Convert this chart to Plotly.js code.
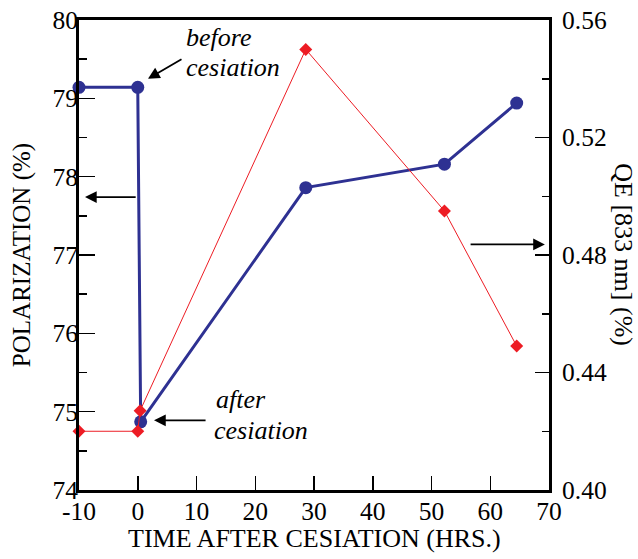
<!DOCTYPE html>
<html>
<head>
<meta charset="utf-8">
<script src="https://cdn.plot.ly/plotly-3.0.1.min.js"></script>
<style>html,body{margin:0;padding:0;background:#fff;}#chart{width:638px;height:559px;}</style>
</head>
<body>
<div id="chart"></div>
<script>
// Polarization series (left axis)
const polTime = [-10, 0, 0.5, 28.6, 52.2, 64.5];
const polValue = [79.14, 79.14, 74.87, 77.86, 78.16, 78.94];
// QE series (right axis)
const qeTime = [-10, 0, 0.4, 28.6, 52.2, 64.5];
const qeValue = [0.420, 0.420, 0.427, 0.550, 0.495, 0.449];

const xTicks = [-10, 0, 10, 20, 30, 40, 50, 60, 70];
const yTicks = [74, 75, 76, 77, 78, 79, 80];
const y2Ticks = [0.40, 0.44, 0.48, 0.52, 0.56];

const serif = 'Liberation Serif';
const BLUE = '#2E3192';
const RED = '#ED1C24';

const traces = [
  {
    x: polTime, y: polValue, type: 'scatter', mode: 'lines+markers',
    line: {color: BLUE, width: 3},
    marker: {color: BLUE, size: 13, symbol: 'circle'},
    yaxis: 'y', cliponaxis: false
  },
  {
    x: qeTime, y: qeValue, type: 'scatter', mode: 'lines+markers',
    line: {color: RED, width: 1},
    marker: {color: RED, size: 10, symbol: 'diamond'},
    yaxis: 'y2', cliponaxis: false
  }
];

const tickFont = {family: serif, size: 25.5, color: '#000'};
const italicFont = {family: serif, size: 26, color: '#000', style: 'italic'};

const layout = {
  width: 638, height: 559,
  margin: {l: 79, r: 89, t: 20, b: 69, pad: 0},
  paper_bgcolor: '#fff', plot_bgcolor: '#fff',
  font: {family: serif},
  showlegend: false,
  xaxis: {
    range: [-10, 70], tickvals: xTicks, ticktext: xTicks.map(String),
    ticks: 'inside', ticklen: 14, tickwidth: 1.5, tickcolor: '#000',
    ticklabelstandoff: -4,
    showline: true, linewidth: 3, linecolor: '#000', mirror: true,
    showgrid: false, zeroline: false, tickfont: tickFont
  },
  yaxis: {
    range: [74, 80], tickvals: yTicks, ticktext: yTicks.map(String),
    ticks: 'inside', ticklen: 16, tickwidth: 1.5, tickcolor: '#000',
    ticklabelstandoff: -7,
    minor: {dtick: 0.5, ticks: 'inside', ticklen: 8, tickwidth: 1.5, tickcolor: '#000', showgrid: false},
    showline: true, linewidth: 3, linecolor: '#000',
    showgrid: false, zeroline: false, tickfont: tickFont
  },
  yaxis2: {
    range: [0.40, 0.56], tickvals: y2Ticks, ticktext: y2Ticks.map(v => v.toFixed(2)),
    overlaying: 'y', side: 'right',
    ticks: 'inside', ticklen: 14, tickwidth: 1.5, tickcolor: '#000',
    ticklabelstandoff: 5,
    minor: {dtick: 0.02, ticks: 'inside', ticklen: 7, tickwidth: 1.5, tickcolor: '#000', showgrid: false},
    showline: true, linewidth: 3, linecolor: '#000',
    showgrid: false, zeroline: false, tickfont: tickFont
  },
  annotations: [
    {xref: 'paper', yref: 'paper', x: -0.121, y: 0.5, text: 'POLARIZATION (%)', textangle: -90,
     showarrow: false, xanchor: 'center', yanchor: 'middle', font: {family: serif, size: 25, color: '#000'}},
    {xref: 'paper', yref: 'paper', x: 1.159, y: 0.5, text: 'QE [833 nm] (%)', textangle: 90,
     showarrow: false, xanchor: 'center', yanchor: 'middle', font: {family: serif, size: 26, color: '#000'}},
    {xref: 'paper', yref: 'paper', x: 0.5, y: -0.104, text: 'TIME AFTER CESIATION (HRS.)',
     showarrow: false, xanchor: 'center', yanchor: 'middle', font: {family: serif, size: 26, color: '#000'}},
    {xref: 'x', yref: 'y', x: 7.9, y: 79.783, text: 'before',
     showarrow: false, xanchor: 'left', yanchor: 'middle', font: italicFont},
    {xref: 'x', yref: 'y', x: 7.9, y: 79.400, text: 'cesiation',
     showarrow: false, xanchor: 'left', yanchor: 'middle', font: italicFont},
    {xref: 'x', yref: 'y', x: 13.0, y: 75.149, text: 'after',
     showarrow: false, xanchor: 'left', yanchor: 'middle', font: italicFont},
    {xref: 'x', yref: 'y', x: 12.6, y: 74.766, text: 'cesiation',
     showarrow: false, xanchor: 'left', yanchor: 'middle', font: italicFont},
    // arrows
    {xref: 'x', yref: 'y', x: 1.74, y: 79.25, axref: 'x', ayref: 'y', ax: 7.7, ay: 79.51,
     text: '', showarrow: true, arrowhead: 2, arrowsize: 1.3, arrowwidth: 1.8, arrowcolor: '#000'},
    {xref: 'x', yref: 'y', x: 2.77, y: 74.89, axref: 'x', ayref: 'y', ax: 11.8, ay: 74.89,
     text: '', showarrow: true, arrowhead: 2, arrowsize: 1.3, arrowwidth: 1.8, arrowcolor: '#000'},
    {xref: 'x', yref: 'y', x: -8.98, y: 77.74, axref: 'x', ayref: 'y', ax: -0.1, ay: 77.74,
     text: '', showarrow: true, arrowhead: 2, arrowsize: 1.3, arrowwidth: 1.8, arrowcolor: '#000'},
    {xref: 'x', yref: 'y2', x: 69.3, y: 0.4836, axref: 'x', ayref: 'y2', ax: 56.4, ay: 0.4836,
     text: '', showarrow: true, arrowhead: 2, arrowsize: 1.3, arrowwidth: 1.8, arrowcolor: '#000'}
  ]
};

Plotly.newPlot('chart', traces, layout, {displayModeBar: false, staticPlot: true});
</script>
</body>
</html>
